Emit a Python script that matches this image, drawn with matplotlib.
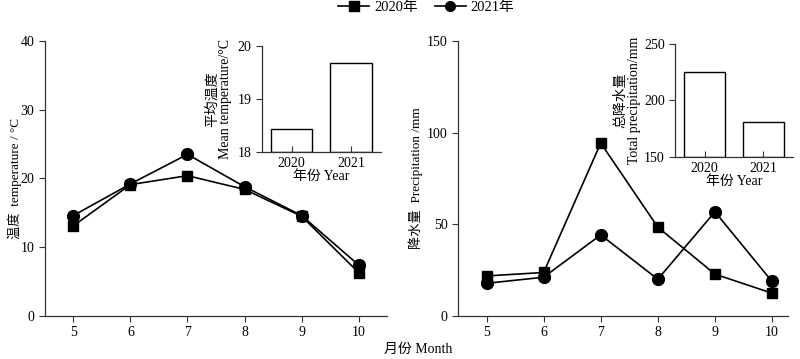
import numpy as np
import matplotlib
matplotlib.use("Agg")
import matplotlib.pyplot as plt
from matplotlib.lines import Line2D

plt.rcParams['font.family'] = ['Liberation Serif', 'Noto Sans CJK SC']
plt.rcParams['font.size'] = 10

months = [5, 6, 7, 8, 9, 10]
temp_2020 = [13.1, 19.1, 20.4, 18.4, 14.5, 6.3]
temp_2021 = [14.6, 19.2, 23.5, 18.8, 14.6, 7.4]
prec_2020 = [21.8, 23.7, 94.3, 48.4, 22.8, 12.4]
prec_2021 = [17.8, 21.1, 44.2, 20.0, 56.8, 18.8]

years = ['2020', '2021']
mean_temp = [18.43, 19.67]
total_prec = [225.4, 180.6]


def style_axes(ax, xdir='out'):
    ax.spines['top'].set_visible(False)
    ax.spines['right'].set_visible(False)
    for s in ('left', 'bottom'):
        ax.spines[s].set_linewidth(0.9)
        ax.spines[s].set_color('#333333')
    ax.tick_params(axis='y', direction='out', length=4, width=0.8, colors='#333333',
                   labelcolor='black')
    ax.tick_params(axis='x', direction=xdir, length=4, width=0.8, colors='#333333',
                   labelcolor='black')


fig = plt.figure(figsize=(8, 3.59), dpi=100)

ax1 = fig.add_axes([0.056, 0.120, 0.428, 0.766])
ax2 = fig.add_axes([0.5725, 0.120, 0.4125, 0.766])

kw = dict(color='black', linewidth=1.2)
sq = dict(marker='s', markersize=7.5)
ci = dict(marker='o', markersize=8.5)

ax1.plot(months, temp_2020, **sq, **kw)
ax1.plot(months, temp_2021, **ci, **kw)
ax1.set_xlim(4.5, 10.5)
ax1.set_ylim(0, 40)
ax1.set_yticks([0, 10, 20, 30, 40])
ax1.set_xticks(months)
ax1.set_ylabel('温度  temperature / °C', fontsize=9.5)
ax1.yaxis.set_label_coords(-0.068, 0.5)
style_axes(ax1)

ax2.plot(months, prec_2020, **sq, **kw)
ax2.plot(months, prec_2021, **ci, **kw)
ax2.set_xlim(4.5, 10.28)
ax2.set_ylim(0, 150)
ax2.set_yticks([0, 50, 100, 150])
ax2.set_xticks(months)
ax2.set_ylabel('降水量  Precipitation /mm', fontsize=9.5)
ax2.yaxis.set_label_coords(-0.105, 0.5)
style_axes(ax2)

# insets
x = np.arange(len(years))
bar_kw = dict(width=0.7, color='white', edgecolor='black', linewidth=1.0)

in1 = fig.add_axes([0.3275, 0.577, 0.1485, 0.295])
in1.bar(x, np.array(mean_temp) - 18, bottom=18, **bar_kw)
in1.set_xlim(-0.5, 1.5)
in1.set_ylim(18, 20)
in1.set_yticks([18, 19, 20])
in1.set_xticks(x)
in1.set_xticklabels(years)
in1.set_ylabel('平均温度\nMean temperature/°C', linespacing=1.05)
in1.yaxis.set_label_coords(-0.25, 0.5)
in1.set_xlabel('年份 Year', labelpad=0)
style_axes(in1, xdir='in')

in2 = fig.add_axes([0.844, 0.5635, 0.147, 0.3135])
in2.bar(x, np.array(total_prec) - 150, bottom=150, **bar_kw)
in2.set_xlim(-0.5, 1.5)
in2.set_ylim(150, 250)
in2.set_yticks([150, 200, 250])
in2.set_xticks(x)
in2.set_xticklabels(years)
in2.set_ylabel('总降水量\nTotal precipitation/mm', linespacing=1.05)
in2.yaxis.set_label_coords(-0.295, 0.5)
in2.set_xlabel('年份 Year', labelpad=0)
style_axes(in2, xdir='in')

fig.text(0.5225, 0.026, '月份 Month', ha='center', va='center')

handles = [Line2D([], [], color='black', linewidth=1.2, marker='s', markersize=6.5),
           Line2D([], [], color='black', linewidth=1.2, marker='o', markersize=7)]
fig.legend(handles, ['2020年', '2021年'], loc='upper center', ncol=2,
           bbox_to_anchor=(0.533, 1.035), frameon=False, handlelength=2.1,
           columnspacing=1.2, handletextpad=0.35, fontsize=10.5)

fig.savefig('out.png', dpi=100)
